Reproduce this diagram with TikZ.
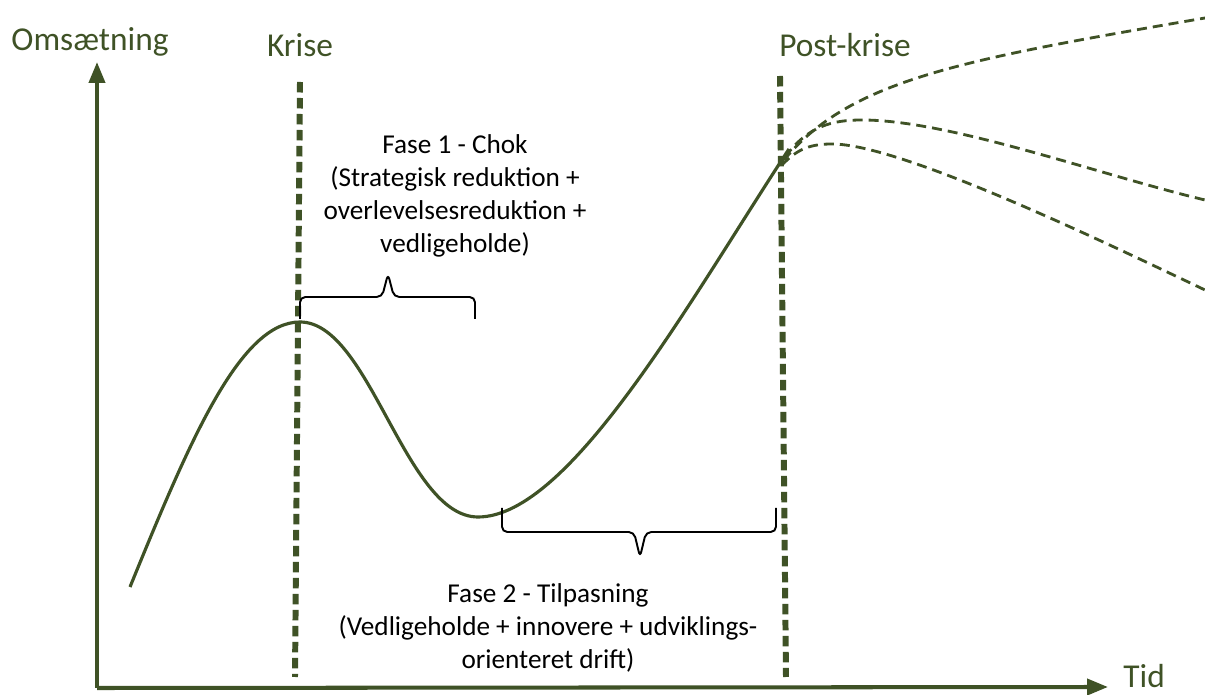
\documentclass[tikz,border=0pt]{standalone}
\usepackage{fontspec}
\setmainfont{Carlito}
\usetikzlibrary{arrows.meta, positioning, calc}
\definecolor{kurveGroen}{HTML}{3F5226}

\begin{document}
\begin{tikzpicture}[x=0.02cm, y=-0.02cm,
        akse/.style={line width=2.3pt, kurveGroen, -{Triangle[length=0.42cm, width=0.32cm]}},
        kurve/.style={line width=1.8pt, kurveGroen},
        scenarie/.style={line width=1.6pt, kurveGroen, dash pattern=on 0.2cm off 0.12cm},
        skille/.style={line width=3.4pt, kurveGroen, dash pattern=on 0.21cm off 0.11cm},
        klamme/.style={line width=1.1pt, black, rounded corners=3pt},
        etiket/.style={text=kurveGroen, font=\fontsize{19}{22}\selectfont, inner sep=0},
        fase/.style={align=center, font=\fontsize{15.5}{18.8}\selectfont, inner sep=0}]
        \useasboundingbox (0,0) rectangle (1205,695);
        % akser
        \coordinate (o) at (97,688);
        \coordinate (yTop) at (97,62);
        \coordinate (xEnd) at (1108,687);
        \draw[akse] (o) -- (yTop);
        \draw[akse] (o) -- (xEnd);
        \node[etiket] (oms) at (90,42) {Omsætning};
        \node[etiket, right=0.3cm of xEnd, yshift=0.22cm] (tid) {Tid};
        % skillelinjer
        \coordinate (krTop) at (300,82); \coordinate (krBund) at (295,677);
        \coordinate (pkTop) at (780,76); \coordinate (pkBund) at (786,677);
        \draw[skille] (krTop) -- (krBund);
        \draw[skille] (pkTop) -- (pkBund);
        \node[etiket] (krise) at (300,45) {Krise};
        \node[etiket] (postkrise) at (845,45) {Post-krise};
        % omsaetningskurve
        \coordinate (start) at (130,587);
        \coordinate (top) at (300,322);
        \coordinate (bund) at (478,517);
        \coordinate (slut) at (789,149);
        \draw[kurve] (start) .. controls (190,440) and (240,322) .. (top)
            .. controls (370,322) and (405,517) .. (bund)
            .. controls (570,517) and (690,300) .. (slut);
        % scenarier efter krisen
        \draw[scenarie] (784,160) .. controls (850,80) and (960,60) .. (1205,18);
        \draw[scenarie] (785,157) .. controls (808,126) and (832,120) .. (862,120)
            .. controls (950,120) and (1100,175) .. (1205,200);
        \draw[scenarie] (782,165) .. controls (798,148) and (812,144) .. (832,144)
            .. controls (900,144) and (1100,240) .. (1205,290);
        % klammer
        \draw[klamme] (300,319) -- (300,297) -- (382,297) -- (388,274) -- (394,297)
            -- (475,297) -- (475,319);
        \draw[klamme] (502,508) -- (502,532) -- (634,532) -- (640,557) -- (646,532)
            -- (776,532) -- (776,508);
        % tekster
        \node[fase] (fase1) at (455,196) {Fase 1 - Chok\\(Strategisk reduktion +\\overlevelsesreduktion +\\vedligeholde)};
        \node[fase] (fase2) at (548,628) {Fase 2 - Tilpasning\\(Vedligeholde + innovere + udviklings-\\orienteret drift)};
    \end{tikzpicture}
\end{document}
